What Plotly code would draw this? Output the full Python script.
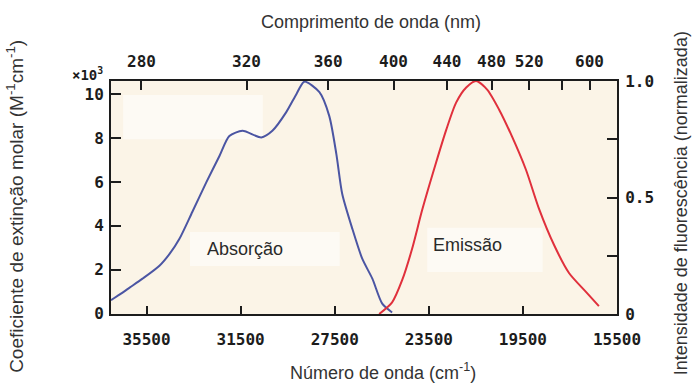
import plotly.graph_objects as go

# Absorption band: wavenumber (cm^-1) vs molar extinction coefficient (x10^3 M^-1 cm^-1)
abs_wavenumber = [37010, 36650, 36220, 35670, 34950, 34520, 34100, 33550, 32950,
                  32400, 31980, 31420, 30620, 30150, 29560, 29130, 28790, 28150,
                  27730, 27430, 27180, 26750, 26330, 25900, 25480, 25060]
abs_epsilon = [0.61, 0.86, 1.18, 1.59, 2.18, 2.72, 3.41, 4.64, 6.0,
               7.18, 8.09, 8.33, 8.03, 8.33, 9.18, 10.0, 10.57, 10.09,
               9.0, 7.27, 5.45, 3.86, 2.5, 1.59, 0.45, 0.05]

# Fluorescence band: wavenumber (cm^-1) vs normalised intensity
em_wavenumber = [25610, 25060, 24630, 24210, 23780, 23190, 22760, 22340, 21910,
                 21490, 21020, 20510, 19960, 19370, 18810, 18180, 17540, 16820, 16270]
em_intensity = [0.0, 0.05, 0.146, 0.28, 0.447, 0.65, 0.79, 0.907, 0.972,
                1.0, 0.963, 0.877, 0.761, 0.619, 0.45, 0.297, 0.176, 0.095, 0.034]

# Axis ticks
wavenumber_ticks = [35500, 31500, 27500, 23500, 19500, 15500]
wavelength_ticks = [280, 320, 360, 400, 440, 480, 520, 560, 600]
wavelength_labels = ["280", "320", "360", "400", "440", "480", "520", "", "600"]
epsilon_ticks = [0, 2, 4, 6, 8, 10]
intensity_ticks = [0, 0.25, 0.5, 0.75, 1.0]
intensity_labels = ["0", "", "0.5", "", "1.0"]

X_RANGE = [37010, 15500]
BLUE = "#4b55a3"
RED = "#e0303c"
INK = "#1c1c1c"
TICK_FONT = dict(family="DejaVu Sans Mono", size=16, color=INK, weight="bold")
TITLE_FONT = dict(family="Liberation Sans, Arial", size=18, color="#333333")

fig = go.Figure()
fig.add_trace(go.Scatter(
    x=abs_wavenumber, y=abs_epsilon, mode="lines",
    line=dict(color=BLUE, width=2, shape="spline", smoothing=0.7),
    xaxis="x", yaxis="y", showlegend=False, hoverinfo="skip"))
fig.add_trace(go.Scatter(
    x=em_wavenumber, y=em_intensity, mode="lines",
    line=dict(color=RED, width=2, shape="spline", smoothing=0.7),
    xaxis="x2", yaxis="y2", showlegend=False, hoverinfo="skip"))

common = dict(showgrid=False, zeroline=False, showline=True, linecolor=INK,
              linewidth=2, ticks="inside", tickcolor=INK, tickwidth=2,
              tickfont=TICK_FONT)

fig.update_layout(
    width=692, height=387,
    margin=dict(l=111, r=75, t=81, b=73),
    paper_bgcolor="white",
    plot_bgcolor="#fbf4e7",
    xaxis=dict(range=X_RANGE, tickvals=wavenumber_ticks,
               ticktext=[str(v) for v in wavenumber_ticks],
               ticklen=8, ticklabelstandoff=10, **common),
    xaxis2=dict(range=X_RANGE, overlaying="x", side="top",
                tickvals=[1e7 / w for w in wavelength_ticks],
                ticktext=wavelength_labels, ticklen=9, ticklabelstandoff=6,
                **common),
    yaxis=dict(range=[-0.02, 10.6], tickvals=epsilon_ticks,
               ticklen=10, ticklabelstandoff=2, **common),
    yaxis2=dict(range=[0, 1.0], overlaying="y", side="right",
                tickvals=intensity_ticks, ticktext=intensity_labels,
                ticklen=10, ticklabelstandoff=3, **common),
)

# Pale patches behind the band labels and upper-left region
for x0, x1, y0, y1 in [(0.024, 0.30, 0.75, 0.94),
                       (0.156, 0.452, 0.206, 0.352),
                       (0.625, 0.853, 0.18, 0.37)]:
    fig.add_shape(type="rect", xref="paper", yref="paper",
                  x0=x0, x1=x1, y0=y0, y1=y1, layer="below",
                  line=dict(width=0), fillcolor="rgba(255,255,255,0.55)")

annotations = [
    dict(text="×10<sup>3</sup>", x=-0.012, y=1.03, xanchor="right", yanchor="middle",
         font=dict(family="DejaVu Sans Mono", size=14, color=INK, weight="bold")),
    dict(text="Comprimento de onda (nm)", x=0.514, y=1.253,
         xanchor="center", yanchor="middle", font=TITLE_FONT),
    dict(text="Número de onda (cm<sup>-1</sup>)", x=0.5375, y=-0.245,
         xanchor="center", yanchor="middle", font=TITLE_FONT),
    dict(text="Coeficiente de extinção molar (M<sup>-1</sup>cm<sup>-1</sup>)",
         x=-0.19, y=0.4635, textangle=-90, xanchor="center", yanchor="middle",
         font=dict(family="Liberation Sans, Arial", size=19, color="#333333")),
    dict(text="Intensidade de fluorescência (normalizada)",
         x=1.126, y=0.474, textangle=-90, xanchor="center", yanchor="middle",
         font=TITLE_FONT),
    dict(text="Absorção", x=0.265, y=0.279, xanchor="center", yanchor="middle",
         font=dict(family="Liberation Sans, Arial", size=18, color="#2a2a2a")),
    dict(text="Emissão", x=0.7055, y=0.296, xanchor="center", yanchor="middle",
         font=dict(family="Liberation Sans, Arial", size=18, color="#2a2a2a")),
]
for a in annotations:
    fig.add_annotation(xref="paper", yref="paper", showarrow=False, **a)

fig.write_html("out.html")
